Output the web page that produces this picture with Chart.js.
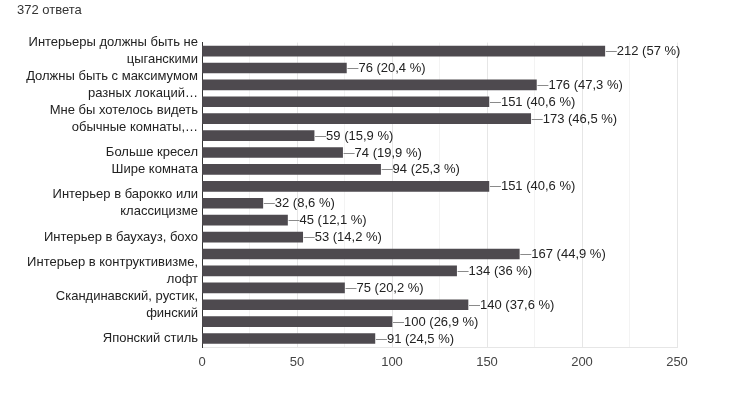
<!DOCTYPE html>
<html>
<head>
<meta charset="utf-8">
<script src="https://cdn.jsdelivr.net/npm/chart.js@4.4.0/dist/chart.umd.min.js"></script>
<style>
  body { margin: 0; background: #fff; }
  #wrap { width: 749px; height: 404px; position: relative; }
</style>
</head>
<body>
<div id="wrap"><canvas id="myChart"></canvas></div>
<script>
// only every other long label is visible in the source, hidden ones left blank
const categories = [
    ['Интерьеры должны быть не', 'цыганскими'],
    '',
    ['Должны быть с максимумом', 'разных локаций…'],
    '',
    ['Мне бы хотелось видеть', 'обычные комнаты,…'],
    '',
    'Больше кресел',
    'Шире комната',
    '',
    ['Интерьер в барокко или', 'классицизме'],
    '',
    'Интерьер в баухауз, бохо',
    '',
    ['Интерьер в контруктивизме,', 'лофт'],
    '',
    ['Скандинавский, рустик,', 'финский'],
    '',
    'Японский стиль'
];
const counts = [212, 76, 176, 151, 173, 59, 74, 94, 151, 32, 45, 53, 167, 134, 75, 140, 100, 91];
const totalAnswers = 372;
const xTicks = [0, 50, 100, 150, 200, 250];

Chart.defaults.font.family = 'Arial, "Liberation Sans", sans-serif';

function pctText(v) {
    let p = (v / totalAnswers * 100).toFixed(1);
    if (p.endsWith('.0')) p = p.slice(0, -2);
    return v + ' (' + p.replace('.', ',') + ' %)';
}

const valueLabels = {
    id: 'valueLabels',
    afterDatasetsDraw(chart) {
        const c = chart.ctx;
        const meta = chart.getDatasetMeta(0);
        c.save();
        c.font = '13px Arial, "Liberation Sans", sans-serif';
        c.textBaseline = 'middle';
        c.textAlign = 'left';
        meta.data.forEach((bar, i) => {
            const y = Math.round(bar.y) + 0.5;
            c.strokeStyle = '#8a8a8a';
            c.lineWidth = 1;
            c.beginPath();
            c.moveTo(bar.x + 1, y);
            c.lineTo(bar.x + 12, y);
            c.stroke();
            c.fillStyle = '#222';
            c.fillText(pctText(counts[i]), bar.x + 12, y);
        });
        c.restore();
    }
};

const ctx = document.getElementById('myChart').getContext('2d');
const myChart = new Chart(ctx, {
    type: 'bar',
    data: {
        labels: categories,
        datasets: [{
            data: counts,
            backgroundColor: '#4e4a4f',
            barThickness: 10
        }]
    },
    options: {
        indexAxis: 'y',
        responsive: true,
        maintainAspectRatio: false,
        animation: false,
        layout: { padding: { left: 17, right: 72, top: 0, bottom: 27 } },
        plugins: {
            legend: { display: false },
            tooltip: { enabled: false },
            title: {
                display: true,
                text: '372 ответа',
                align: 'start',
                color: '#333',
                font: { size: 13, weight: 'normal' },
                padding: { top: 3, bottom: 24 }
            }
        },
        scales: {
            x: {
                min: 0,
                max: 250,
                ticks: {
                    stepSize: 25,
                    color: '#444',
                    font: { size: 13 },
                    padding: 8,
                    callback: v => xTicks.includes(v) ? v : ''
                },
                grid: {
                    drawTicks: false,
                    color: c => xTicks.includes(c.tick.value) ? '#e6e6e6' : '#f3f3f3'
                },
                border: { color: '#e6e6e6' },
                afterFit: s => { s.height = 30; }
            },
            y: {
                ticks: {
                    autoSkip: false,
                    color: '#222',
                    font: { size: 13, lineHeight: 1.3 },
                    padding: 4
                },
                grid: { display: false, drawTicks: false },
                border: { color: '#333' },
                afterFit: s => { s.width = 185; }
            }
        }
    },
    plugins: [valueLabels]
});
</script>
</body>
</html>
